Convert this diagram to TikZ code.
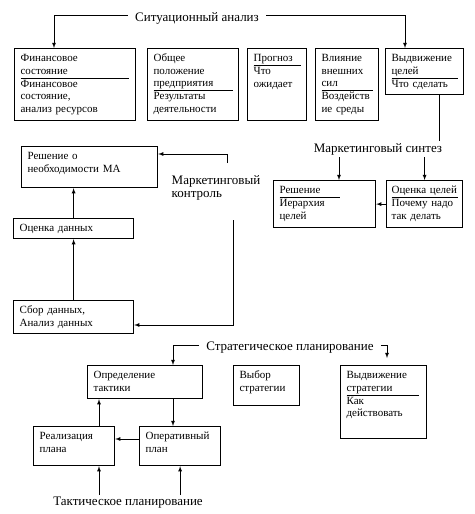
\documentclass[tikz,border=0pt]{standalone}
\usepackage{fontspec}
\setmainfont{Liberation Serif}
\usepackage{array}
\setlength{\arrayrulewidth}{0.8pt}
\newcommand{\boxrows}[2]{\begin{tabular}[t]{@{}>{\raggedright\arraybackslash}p{#1}@{}}#2\end{tabular}}
\begin{document}
\begin{tikzpicture}[x=1pt,y=-1pt,
	box/.style={draw,line width=1.2pt,anchor=north west,inner xsep=6pt,inner ysep=0pt,text height=13pt,align=left,font=\rmfamily\fontsize{11}{12.5}\selectfont},
	title/.style={inner xsep=7pt,inner ysep=2pt,font=\rmfamily\fontsize{13}{13.5}\selectfont},
	arr/.style={-latex,line width=0.8pt}]
	\useasboundingbox (0,0) rectangle (474,514);
	% situation analysis
	\node[title] (sit) at (197,18){Ситуационный анализ};
	\node[box,text width=109pt,text depth=59pt] (fin) at (14,48){\boxrows{108pt}{Финансовое\\состояние\\\hline Финансовое\\состояние,\\анализ~ресурсов}};
	\node[box,text width=79pt,text depth=59pt] (pos) at (147,48){\boxrows{79pt}{Общее\\положение\\предприятия\\\hline Результаты\\деятельности}};
	\node[box,text width=47pt,text depth=59pt] (prog) at (247,48){\boxrows{47pt}{Прогноз\\\hline Что\\ожидает}};
	\node[box,text width=51pt,text depth=59pt] (vliy) at (315,48){\boxrows{51pt}{Влияние\\внешних\\сил\\\hline Воздейств\\ие~среды}};
	\node[box,text width=66pt,text depth=33pt] (vyd) at (385,48){\boxrows{66pt}{Выдвижение\\целей\\\hline Что~сделать}};
	\draw[arr] ([yshift=3pt]sit.west) -| ([xshift=40pt]fin.north west);
	\draw[arr] ([yshift=3pt]sit.east) -| ([xshift=20pt]vyd.north west);
	% marketing synthesis
	\node[title] (msin) at (378,149){Маркетинговый синтез};
	\node[box,text width=90pt,text depth=34pt] (resh) at (273,180){\boxrows{60pt}{Решение\\\hline Иерархия\\целей}};
	\node[box,text width=66pt,inner xsep=5pt,text depth=34pt] (ocz) at (386,180){\boxrows{66pt}{Оценка~целей\\\hline Почему~надо\\так~делать}};
	\coordinate (v1) at ([xshift=54pt]vyd.south west);
	\coordinate (r1) at ([xshift=66pt]resh.north west);
	\draw[line width=0.8pt] (v1) -- (v1 |- msin.north);
	\draw[arr] (r1 |- msin.south) -- (r1);
	\draw[arr] (ocz.north |- msin.south) -- (ocz.north);
	\draw[arr] (ocz.west) -- (resh.east |- ocz.west);
	% marketing control
	\node[box,text width=124pt,text depth=28pt] (nma) at (21,146){Решение о\\необходимости МА};
	\node[box,text width=108pt,text depth=7pt] (ocd) at (13,218){Оценка данных};
	\node[box,text width=108pt,text depth=20pt] (sbor) at (13,300){Сбор данных,\\Анализ данных};
	\node[title,align=left] (mkon) at (216,188){Маркетинговый\\контроль};
	\coordinate (k1) at (227,163);
	\coordinate (k2) at (233,220);
	\draw[arr] (ocd.north) -- (ocd.north |- nma.south);
	\draw[arr] (sbor.north) -- (sbor.north |- ocd.south);
	\draw[arr] (k1) |- ([yshift=-8pt]nma.north east);
	\draw[arr] (k2) |- ([yshift=-25pt]sbor.north east);
	% strategic planning
	\node[title] (strat) at (290,348){Стратегическое планирование};
	\node[box,text width=103pt,text depth=20pt] (opr) at (87,365){Определение\\тактики};
	\node[box,text width=54pt,text depth=27pt] (vyb) at (233,365){Выбор\\стратегии};
	\node[box,text width=74pt,text depth=60pt] (vst) at (340,365){\boxrows{72pt}{Выдвижение\\стратегии\\\hline Как\\действовать}};
	\coordinate (o1) at ([xshift=86pt]opr.north west);
	\coordinate (s2) at (387,358);
	\draw[arr] ([yshift=3pt]strat.west) -| (o1);
	\draw[arr] ([yshift=3pt]strat.east) -| (s2);
	% tactical planning
	\node[box,text width=69pt,text depth=26pt] (real) at (33,426){Реализация\\плана};
	\node[box,text width=69pt,text depth=26pt] (oper) at (139,426){Оперативный\\план};
	\node[title] (takt) at (128,503){Тактическое планирование};
	\coordinate (r2) at ([xshift=66pt]real.north west);
	\coordinate (p1) at ([yshift=-13pt]oper.north west);
	\draw[arr] (o1 |- opr.south) -- (o1 |- oper.north);
	\draw[arr] (r2) -- (r2 |- opr.south);
	\draw[arr] (p1) -- (p1 -| real.east);
	\draw[arr] (r2 |- takt.north) -- (r2 |- real.south);
	\draw[arr] (oper.south |- takt.north) -- (oper.south);
\end{tikzpicture}
\end{document}
